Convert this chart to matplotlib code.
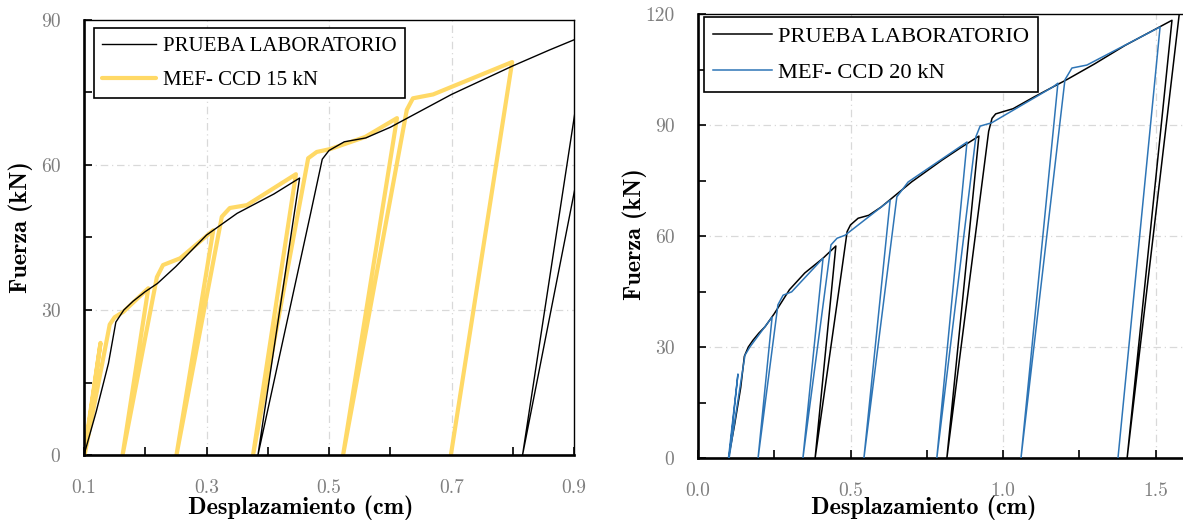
import matplotlib
matplotlib.use("Agg")
import matplotlib.pyplot as plt
from matplotlib.ticker import FixedLocator, FixedFormatter

# Laboratory load-displacement test (cm, kN)
lab_x = [0.100, 0.120, 0.140, 0.152, 0.165, 0.180, 0.200, 0.220, 0.250, 0.300,
         0.350, 0.410, 0.452, 0.384, 0.470, 0.489, 0.500, 0.525, 0.560, 0.600,
         0.700, 0.800, 0.860, 0.921, 0.816, 0.953, 0.964, 0.976, 1.000, 1.033,
         1.100, 1.210, 1.300, 1.400, 1.554, 1.407, 1.585]
lab_y = [0.0, 9.0, 19.0, 27.5, 30.0, 31.8, 33.8, 35.5, 39.0, 45.5,
         50.0, 54.0, 57.3, 0.0, 50.0, 61.2, 63.0, 64.8, 65.6, 67.8,
         74.6, 80.5, 83.8, 87.0, 0.0, 88.3, 91.8, 93.0, 93.6, 94.4,
         97.5, 102.3, 106.5, 111.5, 118.3, 0.0, 125.0]

# Numerical model, CCD 15 kN
mef15_x = [0.100, 0.127, 0.101, 0.142, 0.150, 0.164, 0.205, 0.163, 0.219, 0.229,
           0.257, 0.311, 0.251, 0.325, 0.338, 0.366, 0.446, 0.376, 0.466, 0.480,
           0.502, 0.559, 0.611, 0.523, 0.627, 0.637, 0.670, 0.799, 0.699]
mef15_y = [0.0, 23.2, 0.0, 27.0, 28.5, 29.6, 34.5, 0.0, 36.8, 39.3,
           40.7, 46.5, 0.0, 49.3, 51.1, 51.7, 58.1, 0.0, 61.4, 62.7,
           63.3, 65.8, 69.7, 0.0, 71.4, 73.8, 74.6, 81.3, 0.0]

# Numerical model, CCD 20 kN
mef20_x = [0.100, 0.131, 0.102, 0.154, 0.170, 0.243, 0.197, 0.262, 0.279, 0.307,
           0.410, 0.344, 0.436, 0.456, 0.482, 0.630, 0.544, 0.652, 0.689, 0.882,
           0.783, 0.911, 0.925, 0.963, 1.164, 1.180, 1.059, 1.203, 1.226, 1.275,
           1.515, 1.377]
mef20_y = [0.0, 22.7, 0.0, 27.8, 30.0, 38.1, 0.0, 41.4, 44.0, 44.9,
           54.0, 0.0, 57.6, 59.4, 60.2, 69.7, 0.0, 70.6, 74.6, 85.4,
           0.0, 86.8, 89.7, 90.6, 100.3, 101.3, 0.0, 102.2, 105.4, 106.2,
           116.5, 0.0]

left_xticks = [0.1, 0.3, 0.5, 0.7, 0.9]
left_xlabels = ["0.1", "0.3", "0.5", "0.7", "0.9"]
left_xminor = [0.2, 0.4, 0.6, 0.8]
left_yticks = [0, 30, 60, 90]
left_ylabels = ["0", "30", "60", "90"]
left_yminor = [15, 45, 75]

right_xticks = [0.0, 0.5, 1.0, 1.5]
right_xlabels = ["0.0", "0.5", "1.0", "1.5"]
right_xminor = [0.25, 0.75, 1.25]
right_yticks = [0, 30, 60, 90, 120]
right_ylabels = ["0", "30", "60", "90", "120"]
right_yminor = [15, 45, 75, 105]

LAB_LABEL = "PRUEBA LABORATORIO"
YELLOW = "#FFD966"
BLUE = "#2E75B6"
TICK_GRAY = "#7f7f7f"

W, H = 1183, 527
fig = plt.figure(figsize=(W / 100, H / 100), dpi=100)


def px_axes(x0, y0, x1, y1):
    return fig.add_axes([x0 / W, 1 - y1 / H, (x1 - x0) / W, (y1 - y0) / H])


def style(ax, xlim, ylim, xt, xl, xm, yt, yl, ym, gx, gy, legend_anchor, legend_size,
          xlabel_pos, ylabel_pos):
    ax.set_xlim(*xlim)
    ax.set_ylim(*ylim)
    ax.xaxis.set_major_locator(FixedLocator(xt))
    ax.xaxis.set_major_formatter(FixedFormatter(xl))
    ax.xaxis.set_minor_locator(FixedLocator(xm))
    ax.yaxis.set_major_locator(FixedLocator(yt))
    ax.yaxis.set_major_formatter(FixedFormatter(yl))
    ax.yaxis.set_minor_locator(FixedLocator(ym))
    ax.tick_params(which="both", direction="in", length=6, width=1.2,
                   top=False, right=False, colors="black", labelcolor=TICK_GRAY,
                   labelsize=14)
    ax.tick_params(axis="x", which="major", pad=17)
    ax.tick_params(axis="y", which="major", pad=17)
    for lab in ax.get_xticklabels() + ax.get_yticklabels():
        lab.set_fontfamily("cmr10")
    for s in ("left", "bottom"):
        ax.spines[s].set_linewidth(1.9)
    for s in ("top", "right"):
        ax.spines[s].set_linewidth(1.0)
    grid_kw = dict(color="#d9d9d9", lw=0.9, ls=(0, (6, 3, 1, 3)), zorder=0)
    for v in gx:
        ax.axvline(v, **grid_kw)
    for v in gy:
        ax.axhline(v, **grid_kw)
    ax.set_xlabel("Desplazamiento (cm)", family="cmb10", fontsize=17.5,
                  va="center", ha="center")
    ax.set_ylabel("Fuerza (kN)", family="cmb10", fontsize=17.5,
                  va="center", ha="center")
    ax.xaxis.set_label_coords(*xlabel_pos)
    ax.yaxis.set_label_coords(*ylabel_pos)
    leg = ax.legend(loc="upper left", bbox_to_anchor=legend_anchor, borderaxespad=0,
                    prop={"family": "Liberation Serif", "size": legend_size},
                    frameon=True, fancybox=False, framealpha=1, edgecolor="black",
                    handlelength=2.6, handletextpad=0.3, labelspacing=0.7,
                    borderpad=0.4)
    leg.get_frame().set_linewidth(1.2)
    leg.set_zorder(10)


# Left panel: laboratory test vs CCD 15 kN
ax1 = px_axes(84, 20, 574, 455)
ax1.plot(lab_x, lab_y, color="black", lw=1.0, zorder=3, label=LAB_LABEL,
         solid_joinstyle="round")
ax1.plot(mef15_x, mef15_y, color=YELLOW, lw=3.0, zorder=2, label="MEF- CCD 15 kN",
         solid_joinstyle="round", solid_capstyle="round")
style(ax1, (0.1, 0.9), (0, 90), left_xticks, left_xlabels, left_xminor,
      left_yticks, left_ylabels, left_yminor, [0.3, 0.5, 0.7], [30, 60],
      (0.0204, 0.9816), 15, (0.443, -0.122), (-0.129, 0.524))

# Right panel: laboratory test vs CCD 20 kN
ax2 = px_axes(698, 14, 1186, 458)
ax2.plot(lab_x, lab_y, color="black", lw=1.1, zorder=2, label=LAB_LABEL,
         solid_joinstyle="round")
ax2.plot(mef20_x, mef20_y, color=BLUE, lw=1.1, zorder=3, label="MEF- CCD 20 kN",
         solid_joinstyle="round")
style(ax2, (0.0, 1.6), (0, 120), right_xticks, right_xlabels, right_xminor,
      right_yticks, right_ylabels, right_yminor, [0.5, 1.0, 1.5], [30, 60, 90],
      (0.0123, 0.993), 16.2, (0.463, -0.113), (-0.129, 0.505))

fig.savefig("out.png", dpi=100)
